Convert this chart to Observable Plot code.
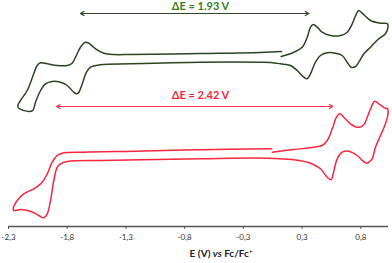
<!DOCTYPE html>
<html>
<head>
<meta charset="utf-8">
<script src="https://cdn.jsdelivr.net/npm/d3@7"></script>
<script src="https://cdn.jsdelivr.net/npm/@observablehq/plot@0.6"></script>
<style>
  html, body { margin: 0; padding: 0; background: #fff; }
  #chart { width: 392px; height: 263px; }
</style>
</head>
<body>
<div id="chart"></div>
<script>
// Potentials (V vs Fc/Fc+) and currents (arbitrary units, curves offset)
const greenE = [0.022,0.130,0.201,0.244,0.272,0.295,0.329,0.371,0.442,0.527,0.584,0.627,0.663,0.683,0.712,0.783,0.868,0.927,0.932,0.910,0.853,0.783,0.726,0.683,0.655,0.618,0.584,0.542,0.485,0.414,0.357,0.314,0.272,0.244,0.215,0.158,0.101,0.016,-0.069,-0.154,-0.665,-1.261,-1.517,-1.602,-1.636,-1.672,-1.701,-1.721,-1.744,-1.800,-1.857,-1.928,-1.985,-2.027,-2.070,-2.093,-2.127,-2.212,-2.221,-2.198,-2.141,-2.085,-2.056,-2.027,-1.970,-1.885,-1.800,-1.758,-1.729,-1.687,-1.644,-1.616,-1.559,-1.488,-1.403,-1.261,-0.665,-0.154,0.025];
const greenI = [170,174.3,179.3,189.3,199.3,202,199.3,194.3,191,191,194.3,202.7,212.7,216,213.3,206,203.3,202.7,199.3,192.7,187.7,179.3,172.7,164.3,160,159.3,164.3,171,173.3,173.7,171,164.3,152.7,147.7,149.3,156,161,162.7,164,164.3,164.3,162.7,161.7,159.3,154.3,142.7,134.3,132.7,134.3,141,144.3,145,142.7,136,124.3,116,115,118.3,121,126,136,152.7,161,163.7,162.7,161,161,163.3,169.3,179.3,184.3,183.3,177.7,173.3,172,172,173,174,175];

const redE = [-0.054,0.130,0.300,0.371,0.414,0.457,0.493,0.521,0.555,0.612,0.669,0.721,0.755,0.789,0.817,0.853,0.902,0.928,0.932,0.910,0.868,0.825,0.797,0.768,0.746,0.712,0.669,0.598,0.542,0.499,0.465,0.448,0.414,0.357,0.272,0.130,-0.097,-0.665,-1.176,-1.517,-1.800,-1.857,-1.885,-1.914,-1.942,-1.970,-1.999,-2.042,-2.113,-2.198,-2.255,-2.260,-2.226,-2.170,-2.085,-2.013,-1.970,-1.928,-1.885,-1.843,-1.659,-1.233,-0.665,-0.060];
const redI = [74.3,77,79.3,81,86,97.7,109.3,112.7,109.3,102.7,99.3,101,109.3,119.3,125.3,122.7,118.7,117.7,112.7,102.7,91,79.3,67.7,64.3,63.3,66,71,75.3,74.3,67.7,52.7,46.7,49.3,57.7,63.3,66.7,68.3,67.7,66.7,66,65,62.7,59.3,46,26,12.7,8.7,11,15.3,17,16,17.7,26,32.7,37.7,44.3,52.7,64.3,71,73.3,74.3,75.3,76.7,77.7];

// Axis ticks (positions and their printed labels)
const tickValues = [-2.3, -1.8, -1.3, -0.8, -0.3, 0.2, 0.7];
const tickLabels = ["-2,3", "-1,8", "-1,3", "-0,8", "-0,3", "0,3", "0,8"];

// ΔE annotations
const deltaLabels = ["ΔE = 1.93 V", "ΔE = 2.42 V"];
const deltaStart = [-1.687, -1.891];
const deltaEnd = [0.257, 0.462];
const deltaArrowLevel = [213, 120];
const deltaTextLevel = [220.5, 131];
const deltaTextE = [-0.665, -0.665];
const curveColors = ["#2b4521", "#f7263f"];
const arrowColors = ["#2c4a26", "#ff3050"];
const textColors = ["#3a7a20", "#f51f3d"];

const green = greenE.map((e, i) => ({E: e, I: greenI[i]}));
const red = redE.map((e, i) => ({E: e, I: redI[i]}));
const ann = deltaLabels.map((t, i) => ({
  label: t, x1: deltaStart[i], x2: deltaEnd[i], y: deltaArrowLevel[i],
  tx: deltaTextE[i], ty: deltaTextLevel[i], c: arrowColors[i], tc: textColors[i]
}));

const chart = Plot.plot({
  width: 392,
  height: 263,
  marginLeft: 8,
  marginRight: 4,
  marginTop: 0,
  marginBottom: 37,
  x: {domain: [-2.3, 0.936], axis: null},
  y: {domain: [0, 226], axis: null},
  style: {fontFamily: "Lato, 'Open Sans', sans-serif", background: "white"},
  marks: [
    Plot.ruleY([0], {stroke: "#555", strokeWidth: 1.5}),
    Plot.axisX(tickValues, {
      anchor: "bottom", tickSize: 3, tickPadding: 5, fontSize: 8, stroke: "#555",
      fill: "#333", tickFormat: d => tickLabels[tickValues.indexOf(d)], label: null
    }),
    Plot.line(green, {x: "E", y: "I", stroke: curveColors[0], strokeWidth: 1.5, curve: "catmull-rom"}),
    Plot.line(red, {x: "E", y: "I", stroke: curveColors[1], strokeWidth: 1.5, curve: "catmull-rom"}),
    Plot.arrow(ann, {x1: "x1", x2: "x2", y1: "y", y2: "y", stroke: "c", strokeWidth: 1.2, headLength: 5, bend: 0}),
    Plot.arrow(ann, {x1: "x2", x2: "x1", y1: "y", y2: "y", stroke: "c", strokeWidth: 1.2, headLength: 5, bend: 0}),
    Plot.text(ann, {x: "tx", y: "ty", text: "label", fill: "tc", fontSize: 11, fontWeight: "bold"})
  ]
});

document.getElementById("chart").appendChild(chart);

// Axis title with italic "vs" and superscript "+"
const svg = d3.select(chart);
const title = svg.append("text")
  .attr("x", 221).attr("y", 257)
  .attr("text-anchor", "middle")
  .attr("font-family", "Lato, 'Open Sans', sans-serif")
  .attr("font-size", 10).attr("font-weight", "bold").attr("fill", "#222");
title.append("tspan").text("E (V) ");
title.append("tspan").attr("font-style", "italic").text("vs");
title.append("tspan").text(" Fc/Fc");
title.append("tspan").attr("font-size", 6).attr("dy", -4).text("+");
</script>
</body>
</html>
